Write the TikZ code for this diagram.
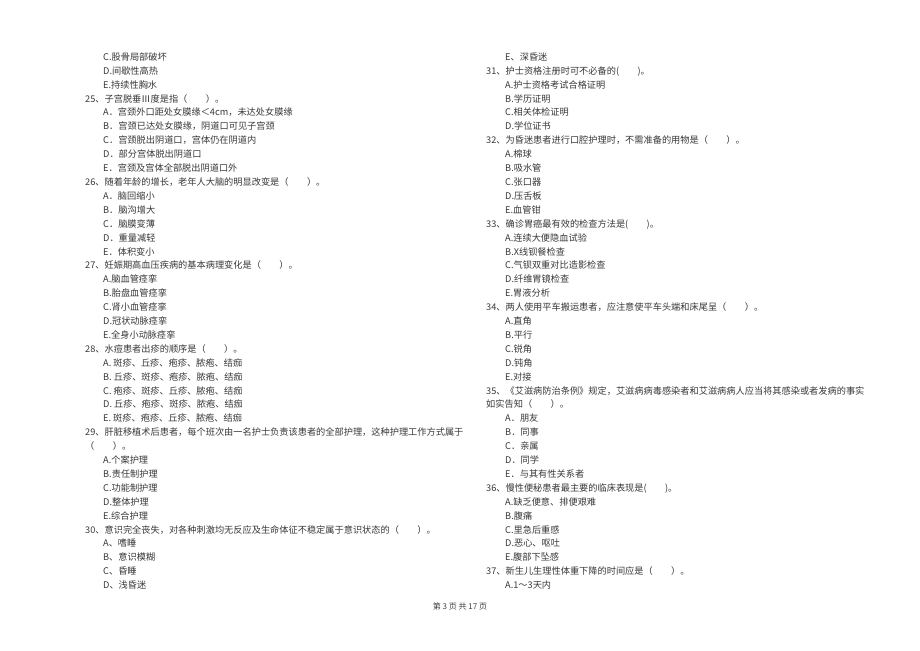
\documentclass[tikz,border=0pt]{standalone}
\usepackage{fontspec}
\newfontfamily\cjk{Noto Sans CJK SC}
\newcommand\ql[4]{\node[txt] (#1) at (#2,{60.4+13.9*(#3)}) {#4};}
\begin{document}
\begin{tikzpicture}[x=1pt,y=-1pt,
  txt/.style={anchor=base west,inner sep=0pt,text=black!78,font=\cjk\fontsize{9.2}{11}\selectfont}]
\fill[white] (0,0) rectangle (920,650);
\useasboundingbox (0,0) rectangle (920,650);
% left column
\ql{l0}{103}{0}{C.股骨局部破坏}
\ql{l1}{103}{1}{D.间歇性高热}
\ql{l2}{103}{2}{E.持续性胸水}
\ql{l3}{85}{3}{25、子宫脱垂Ⅲ度是指（　　）。}
\ql{l4}{103}{4}{A．宫颈外口距处女膜缘＜4cm，未达处女膜缘}
\ql{l5}{103}{5}{B．宫颈已达处女膜缘，阴道口可见子宫颈}
\ql{l6}{103}{6}{C．宫颈脱出阴道口，宫体仍在阴道内}
\ql{l7}{103}{7}{D．部分宫体脱出阴道口}
\ql{l8}{103}{8}{E．宫颈及宫体全部脱出阴道口外}
\ql{l9}{85}{9}{26、随着年龄的增长，老年人大脑的明显改变是（　　）。}
\ql{l10}{103}{10}{A．脑回缩小}
\ql{l11}{103}{11}{B．脑沟增大}
\ql{l12}{103}{12}{C．脑膜变薄}
\ql{l13}{103}{13}{D．重量减轻}
\ql{l14}{103}{14}{E．体积变小}
\ql{l15}{85}{15}{27、妊娠期高血压疾病的基本病理变化是（　　）。}
\ql{l16}{103}{16}{A.脑血管痉挛}
\ql{l17}{103}{17}{B.胎盘血管痉挛}
\ql{l18}{103}{18}{C.肾小血管痉挛}
\ql{l19}{103}{19}{D.冠状动脉痉挛}
\ql{l20}{103}{20}{E.全身小动脉痉挛}
\ql{l21}{85}{21}{28、水痘患者出疹的顺序是（　　）。}
\ql{l22}{103}{22}{A. 斑疹、丘疹、疱疹、脓疱、结痂}
\ql{l23}{103}{23}{B. 丘疹、斑疹、疱疹、脓疱、结痂}
\ql{l24}{103}{24}{C. 疱疹、斑疹、丘疹、脓疱、结痂}
\ql{l25}{103}{25}{D. 丘疹、疱疹、斑疹、脓疱、结痂}
\ql{l26}{103}{26}{E. 斑疹、疱疹、丘疹、脓疱、结痂}
\ql{l27}{85}{27}{29、肝脏移植术后患者，每个班次由一名护士负责该患者的全部护理，这种护理工作方式属于}
\ql{l28}{85}{28}{（　　）。}
\ql{l29}{103}{29}{A.个案护理}
\ql{l30}{103}{30}{B.责任制护理}
\ql{l31}{103}{31}{C.功能制护理}
\ql{l32}{103}{32}{D.整体护理}
\ql{l33}{103}{33}{E.综合护理}
\ql{l34}{85}{34}{30、意识完全丧失，对各种刺激均无反应及生命体征不稳定属于意识状态的（　　）。}
\ql{l35}{103}{35}{A、嗜睡}
\ql{l36}{103}{36}{B、意识模糊}
\ql{l37}{103}{37}{C、昏睡}
\ql{l38}{103}{38}{D、浅昏迷}
% right column
\ql{r0}{505}{0}{E、深昏迷}
\ql{r1}{486}{1}{31、护士资格注册时可不必备的(　　)。}
\ql{r2}{505}{2}{A.护士资格考试合格证明}
\ql{r3}{505}{3}{B.学历证明}
\ql{r4}{505}{4}{C.相关体检证明}
\ql{r5}{505}{5}{D.学位证书}
\ql{r6}{486}{6}{32、为昏迷患者进行口腔护理时，不需准备的用物是（　　）。}
\ql{r7}{505}{7}{A.棉球}
\ql{r8}{505}{8}{B.吸水管}
\ql{r9}{505}{9}{C.张口器}
\ql{r10}{505}{10}{D.压舌板}
\ql{r11}{505}{11}{E.血管钳}
\ql{r12}{486}{12}{33、确诊胃癌最有效的检查方法是(　　)。}
\ql{r13}{505}{13}{A.连续大便隐血试验}
\ql{r14}{505}{14}{B.X线钡餐检查}
\ql{r15}{505}{15}{C.气钡双重对比造影检查}
\ql{r16}{505}{16}{D.纤维胃镜检查}
\ql{r17}{505}{17}{E.胃液分析}
\ql{r18}{486}{18}{34、两人使用平车搬运患者，应注意使平车头端和床尾呈（　　）。}
\ql{r19}{505}{19}{A.直角}
\ql{r20}{505}{20}{B.平行}
\ql{r21}{505}{21}{C.锐角}
\ql{r22}{505}{22}{D.钝角}
\ql{r23}{505}{23}{E.对接}
\ql{r24}{486}{24}{35、《艾滋病防治条例》规定，艾滋病病毒感染者和艾滋病病人应当将其感染或者发病的事实}
\ql{r25}{486}{25}{如实告知（　　）。}
\ql{r26}{505}{26}{A．朋友}
\ql{r27}{505}{27}{B．同事}
\ql{r28}{505}{28}{C．亲属}
\ql{r29}{505}{29}{D．同学}
\ql{r30}{505}{30}{E．与其有性关系者}
\ql{r31}{486}{31}{36、慢性便秘患者最主要的临床表现是(　　)。}
\ql{r32}{505}{32}{A.缺乏便意、排便艰难}
\ql{r33}{505}{33}{B.腹痛}
\ql{r34}{505}{34}{C.里急后重感}
\ql{r35}{505}{35}{D.恶心、呕吐}
\ql{r36}{505}{36}{E.腹部下坠感}
\ql{r37}{486}{37}{37、新生儿生理性体重下降的时间应是（　　）。}
\ql{r38}{505}{38}{A.1～3天内}
% footer
\node[anchor=base,inner sep=0pt,text=black!75,font=\cjk\fontsize{8}{10}\selectfont] (ft) at (460,609) {第 3 页 共 17 页};
\end{tikzpicture}
\end{document}
